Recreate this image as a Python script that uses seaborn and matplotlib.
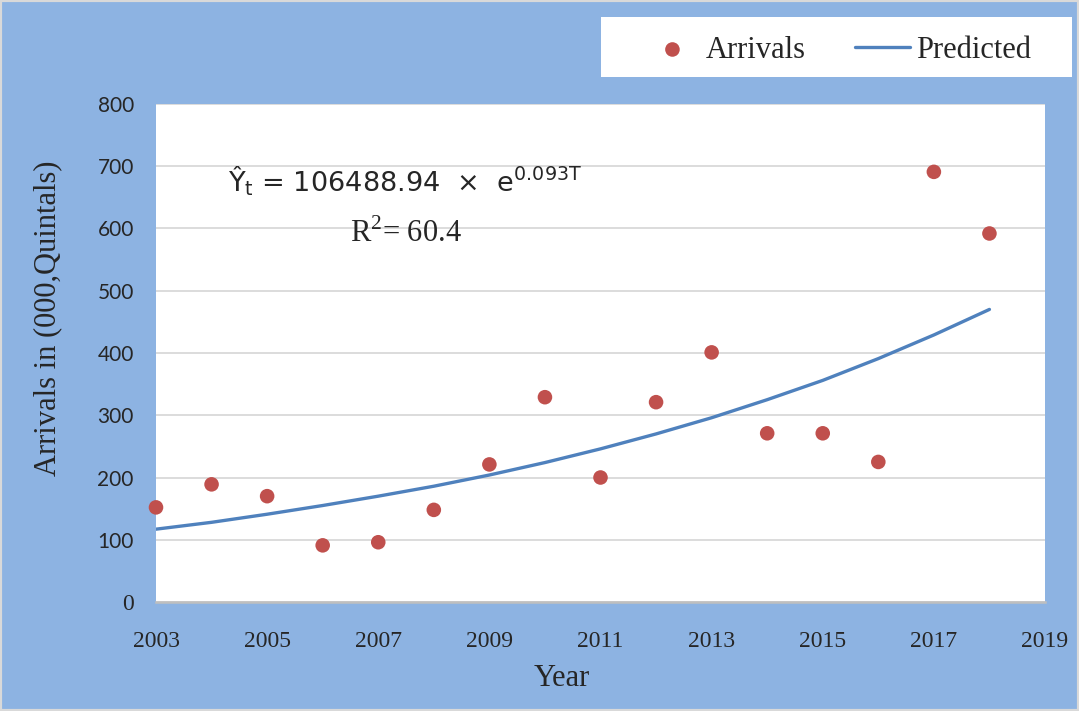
import matplotlib
matplotlib.use("Agg")
import matplotlib.pyplot as plt
from matplotlib.patches import Rectangle
import pandas as pd
import seaborn as sns

# values
years = [2003, 2004, 2005, 2006, 2007, 2008, 2009, 2010,
         2011, 2012, 2013, 2014, 2015, 2016, 2017, 2018]
arrivals = [152, 189, 170, 91, 96, 148, 221, 329,
            200, 321, 401, 271, 271, 225, 691, 592]
predicted = [117, 128, 141, 155, 170, 186, 204, 224,
             246, 270, 296, 325, 356, 391, 429, 470]
x_ticks = [2003, 2005, 2007, 2009, 2011, 2013, 2015, 2017, 2019]
y_ticks = [0, 100, 200, 300, 400, 500, 600, 700, 800]

df = pd.DataFrame({"Year": years, "Arrivals": arrivals, "Predicted": predicted})

sns.set_style("white")
plt.rcParams["mathtext.fontset"] = "dejavusans"

bg = "#8DB3E2"
serif = "Liberation Serif"

fig = plt.figure(figsize=(10.79, 7.11), dpi=100)
fig.patch.set_facecolor(bg)
ax = fig.add_axes([156 / 1079, 1 - 602 / 711, 889 / 1079, 498 / 711])
ax.set_facecolor("white")

sns.lineplot(data=df, x="Year", y="Predicted", ax=ax, color="#4F81BD",
             linewidth=2.4, label="Predicted", zorder=3)
sns.scatterplot(data=df, x="Year", y="Arrivals", ax=ax, color="#C0504D",
                s=110, edgecolor="none", label="Arrivals", zorder=4,
                clip_on=False)

ax.set_xlim(2003, 2019)
ax.set_ylim(0, 800)
ax.set_xticks(x_ticks)
ax.set_yticks(y_ticks)
ax.yaxis.grid(True, color="#D9D9D9", linewidth=1.3)
ax.xaxis.grid(False)
ax.set_axisbelow(True)
for s in ["top", "right", "left"]:
    ax.spines[s].set_visible(False)
ax.spines["bottom"].set_color("#BFBFBF")
ax.spines["bottom"].set_linewidth(1.8)
ax.tick_params(axis="both", length=0)
ax.tick_params(axis="x", pad=21)
ax.tick_params(axis="y", pad=16)

for lab in ax.get_xticklabels():
    lab.set_fontfamily(serif)
    lab.set_fontsize(17)
for lab in ax.get_yticklabels():
    lab.set_fontfamily("Lato")
    lab.set_fontsize(15)
ax.get_yticklabels()[0].set_fontfamily(serif)
ax.get_yticklabels()[0].set_fontsize(17)

ax.set_xlabel("Year", fontfamily=serif, fontsize=22, va="top")
ax.xaxis.set_label_coords(0.4567, -0.125)
ax.set_ylabel("Arrivals in (000,Quintals)", fontfamily=serif, fontsize=22)
ax.yaxis.set_label_coords(-0.106, 0.57)

# equation annotation
ax.text(2004.3, 659, "Ŷ$_{\\mathrm{t}}$ = 106488.94  ×  e$^{\\mathrm{0.093T}}$",
        fontsize=19.5, fontfamily="DejaVu Sans", va="baseline", ha="left")
ax.text(2006.5, 579, r"R$^{\mathregular{2}}$= 60.4", fontsize=22, fontfamily=serif,
        va="baseline", ha="left")

# legend in white box at the top right
handles, labels = ax.get_legend_handles_labels()
ax.get_legend().remove()
order = [labels.index("Arrivals"), labels.index("Predicted")]
fig.patches.append(Rectangle((601 / 1079, 1 - 77 / 711), 471 / 1079, 60 / 711,
                             transform=fig.transFigure, facecolor="white",
                             edgecolor="none", zorder=1))
fig.legend([handles[i] for i in order], [labels[i] for i in order],
           loc="center", bbox_to_anchor=(838 / 1079, 1 - 50 / 711),
           ncol=2, frameon=False, prop={"family": serif, "size": 22},
           handlelength=1.8, handletextpad=0.2, columnspacing=1.6,
           scatterpoints=1)

# light grey border round the figure
fig.patches.append(Rectangle((0, 0), 1, 1, transform=fig.transFigure,
                             facecolor="none", edgecolor="#D9D9D9",
                             linewidth=3, zorder=5))

fig.savefig("out.png", dpi=100, facecolor=fig.get_facecolor())
